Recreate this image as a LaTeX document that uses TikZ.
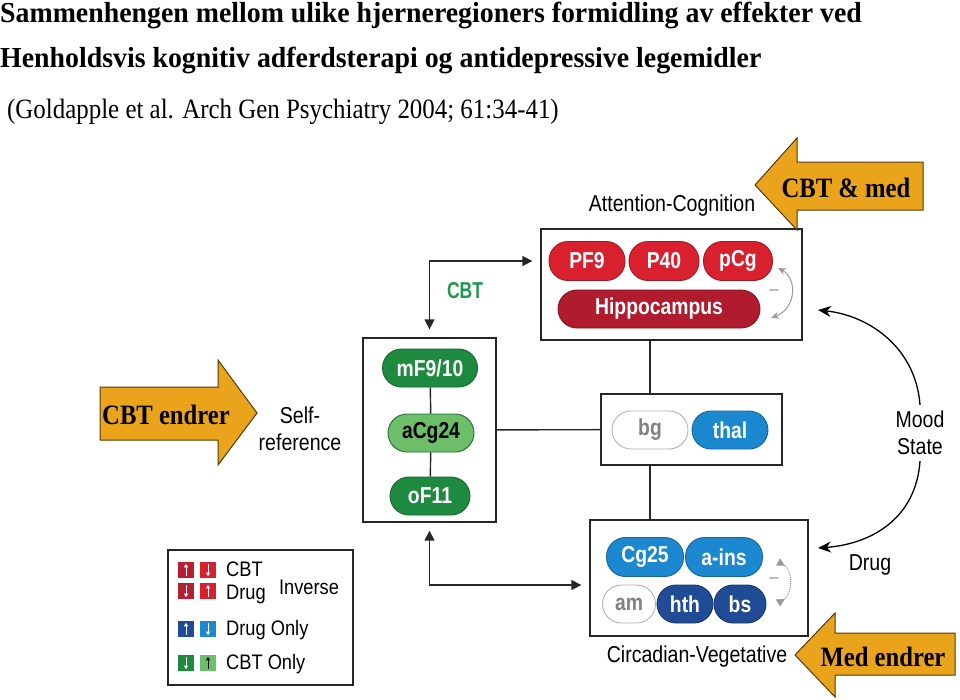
\documentclass[tikz,border=0pt]{standalone}
\usepackage{fontspec}
\setmainfont{Liberation Serif}
\setsansfont{Liberation Sans}
\usepackage{tikz}
\usetikzlibrary{arrows.meta}
\definecolor{pillred}{HTML}{D9202F}
\definecolor{hipred}{HTML}{B01B2E}
\definecolor{legred}{HTML}{B51F30}
\definecolor{darkgreen}{HTML}{1E8A40}
\definecolor{lightgreen}{HTML}{6CBE69}
\definecolor{cbtgreen}{HTML}{1F9A4A}
\definecolor{pillblue}{HTML}{1C88D0}
\definecolor{darkblue}{HTML}{1F4C94}
\definecolor{arrowgold}{HTML}{EAA41B}
\newcommand{\cnd}[1]{\scalebox{0.84}[1]{#1}}
\tikzstyle{region} = [draw=black!85, line width=1.3pt, fill=white, inner sep=0pt]
\tikzstyle{pill} = [rounded corners=19pt, minimum height=39pt, inner sep=0pt, line width=0.9pt, text=white, font=\sffamily\bfseries\fontsize{23}{23}\selectfont]
\tikzstyle{lbl} = [font=\sffamily\fontsize{23}{27}\selectfont, xscale=0.85, align=center, inner sep=0pt]
\tikzstyle{leglbl} = [font=\sffamily\fontsize{21}{23}\selectfont, xscale=0.87, inner sep=0pt]
\tikzstyle{link} = [line width=1.4pt, draw=black!85]
\tikzstyle{biarrow} = [link, {Triangle[length=10pt,width=10pt]}-{Triangle[length=10pt,width=10pt]}, shorten <=8pt, shorten >=8pt]
\tikzstyle{curvearr} = [line width=1.3pt, -{Stealth[length=13pt,width=11pt]}]
\tikzstyle{bigarrow} = [fill=arrowgold, draw=black!65!arrowgold, line width=1pt]
\tikzstyle{bigtext} = [font=\bfseries\fontsize{28}{28}\selectfont, xscale=0.88]
\tikzstyle{sq} = [minimum size=16pt, inner sep=0pt]
\tikzstyle{sqarr} = [line width=0.8pt, -{Triangle[length=3.5pt,width=4pt]}, shorten <=2pt, shorten >=2pt]

\begin{document}
\begin{tikzpicture}[x=1pt,y=-1pt]
	\useasboundingbox (0,0) rectangle (960,699);
	% title
	\node[anchor=base west, inner sep=0pt, xscale=0.96, font=\bfseries\fontsize{29}{32}\selectfont] (title1) at (0,22) {Sammenhengen mellom ulike hjerneregioners formidling av effekter ved};
	\node[anchor=base west, inner sep=0pt, xscale=0.96, font=\bfseries\fontsize{29}{32}\selectfont] (title2) at (0,67) {Henholdsvis kognitiv adferdsterapi og antidepressive legemidler};
	\node[anchor=base west, inner sep=0pt, xscale=0.89, font=\fontsize{28}{32}\selectfont] (ref) at (7,118) {(Goldapple et al. Arch Gen Psychiatry 2004; 61:34-41)};

	% region boxes
	\node[region, minimum width=261pt, minimum height=111pt] (attn) at (671.5,284.5) {};
	\node[region, minimum width=133pt, minimum height=184pt] (self) at (429.5,430) {};
	\node[region, minimum width=181pt, minimum height=71pt] (mid) at (691.5,429.5) {};
	\node[region, minimum width=218pt, minimum height=116pt] (circ) at (699,578) {};
	\node[region, minimum width=185pt, minimum height=135pt] (legend) at (260.5,617.5) {};

	\node[lbl] (attnlbl) at (672,206) {Attention-Cognition};
	\node[lbl] (circlbl) at (697,657) {Circadian-Vegetative};
	\node[lbl] (selflbl) at (300,429) {Self-\\reference};
	\node[lbl] (mood) at (920,433) {Mood\\State};
	\node[lbl] (drug) at (870,565) {Drug};

	% attention-cognition
	\node[pill, fill=pillred, draw=pillred!75!black, minimum width=76pt] (pf) at (587,261) {\cnd{PF9}};
	\node[pill, fill=pillred, draw=pillred!75!black, minimum width=70pt] (p40) at (664,261) {\cnd{P40}};
	\node[pill, fill=pillred, draw=pillred!75!black, minimum width=69pt] (pcg) at (738,261) {\cnd{pCg}};
	\node[pill, fill=hipred, draw=hipred!75!black, minimum width=202pt, minimum height=38pt] (hip) at (659,309) {\cnd{Hippocampus}};
	\draw[gray!80, line width=1pt, {Stealth[length=8pt,width=7pt]}-{Stealth[length=8pt,width=7pt]}] (778,268) .. controls (797,278) and (797,308) .. (771,318);
	\node[text=gray, font=\sffamily\fontsize{16}{16}\selectfont] (minus1) at (774,292) {--};

	% self-reference
	\node[pill, fill=darkgreen, draw=darkgreen!75!black, minimum width=95pt, minimum height=38pt] (mf) at (430,368) {\cnd{mF9/10}};
	\node[pill, fill=lightgreen, draw=darkgreen!80!black, text=black, minimum width=86pt, minimum height=38pt] (acg) at (431,433) {\cnd{aCg24}};
	\node[pill, fill=darkgreen, draw=darkgreen!75!black, minimum width=80pt, minimum height=38pt] (of) at (430,496) {\cnd{oF11}};
	\draw[link] (mf) -- (acg) -- (of);

	% middle
	\node[pill, fill=white, draw=gray!60, text=gray, minimum width=76pt, minimum height=38pt] (bg) at (650,430) {\cnd{bg}};
	\node[pill, fill=pillblue, draw=pillblue!75!black, minimum width=76pt, minimum height=38pt] (thal) at (730,430) {\cnd{thal}};

	% circadian-vegetative
	\node[pill, fill=pillblue, draw=pillblue!75!black, minimum width=77pt] (cg) at (645,557) {\cnd{Cg25}};
	\node[pill, fill=pillblue, draw=pillblue!75!black, minimum width=77pt] (ains) at (724,557) {\cnd{a-ins}};
	\node[pill, fill=white, draw=gray!60, text=gray, minimum width=53pt, minimum height=38pt] (am) at (629,604) {\cnd{am}};
	\node[pill, fill=darkblue, draw=darkblue!75!black, minimum width=56pt, minimum height=38pt] (hth) at (685,604) {\cnd{hth}};
	\node[pill, fill=darkblue, draw=darkblue!75!black, minimum width=52pt, minimum height=38pt] (bs) at (740,604) {\cnd{bs}};
	\draw[gray!80, line width=1pt, densely dotted, {Triangle[reversed,length=8pt,width=8pt]}-{Triangle[reversed,length=8pt,width=8pt]}] (778,562) .. controls (793,570) and (793,594) .. (778,603);
	\node[text=gray, font=\sffamily\fontsize{16}{16}\selectfont] (minus2) at (774,580) {--};

	% links
	\draw[link] (self) -- (mid);
	\draw[link] (bg.north |- attn.south) -- (bg.north |- mid.north);
	\draw[link] (bg.south |- mid.south) -- (bg.south |- circ.north);
	\draw[biarrow] (self.north) |- (attn.west |- pf.center);
	\node[text=cbtgreen, font=\sffamily\bfseries\fontsize{23}{23}\selectfont, xscale=0.76] (cbtlbl) at (465,291) {CBT};
	\draw[biarrow] (self.south) |- ([yshift=-7pt]circ.west);

	% mood state
	\coordinate (moodup) at (818,310);
	\coordinate (moodlow) at (818,548);
	\draw[curvearr] ([yshift=6pt]mood.north) .. controls (916,350) and (872,316) .. (moodup);
	\draw[curvearr] ([yshift=-6pt]mood.south) .. controls (916,518) and (872,544) .. (moodlow);

	% big arrows
	\draw[bigarrow] (923,162) -- (797,162) -- (797,138) -- (755,185) -- (797,230) -- (797,210) -- (923,210) -- cycle;
	\node[bigtext] (cbtmed) at (846,188) {CBT \& med};
	\draw[bigarrow] (100,387) -- (218,387) -- (218,360) -- (257,413) -- (218,465) -- (218,440) -- (100,440) -- cycle;
	\node[bigtext] (cbtend) at (166,415) {CBT endrer};
	\draw[bigarrow] (955,633) -- (835,633) -- (835,613) -- (795,655) -- (835,697) -- (835,675) -- (955,675) -- cycle;
	\node[bigtext] (medend) at (883,657) {Med endrer};

	% legend
	\node[sq, fill=legred] (s1) at (186,570) {};
	\node[sq, fill=pillred] (s2) at (208,570) {};
	\node[sq, fill=legred] (s3) at (186,591) {};
	\node[sq, fill=pillred] (s4) at (208,591) {};
	\node[sq, fill=darkblue] (s5) at (186,629) {};
	\node[sq, fill=pillblue] (s6) at (208,629) {};
	\node[sq, fill=darkgreen] (s7) at (186,663) {};
	\node[sq, fill=lightgreen] (s8) at (208,663) {};
	\draw[sqarr, white] (s1.south) -- (s1.north);
	\draw[sqarr, white] (s2.north) -- (s2.south);
	\draw[sqarr, white] (s3.north) -- (s3.south);
	\draw[sqarr, white] (s4.south) -- (s4.north);
	\draw[sqarr, white] (s5.south) -- (s5.north);
	\draw[sqarr, white] (s6.north) -- (s6.south);
	\draw[sqarr, white] (s7.north) -- (s7.south);
	\draw[sqarr, black] (s8.south) -- (s8.north);
	\node[leglbl, anchor=west] (lcbt) at (226,569) {CBT};
	\node[leglbl, anchor=west] (ldrug) at (226,594) {Drug};
	\node[leglbl] (linv) at (309,587) {Inverse};
	\node[leglbl, anchor=west] (ldrugonly) at (226,630) {Drug Only};
	\node[leglbl, anchor=west] (lcbtonly) at (226,664) {CBT Only};
\end{tikzpicture}
\end{document}
